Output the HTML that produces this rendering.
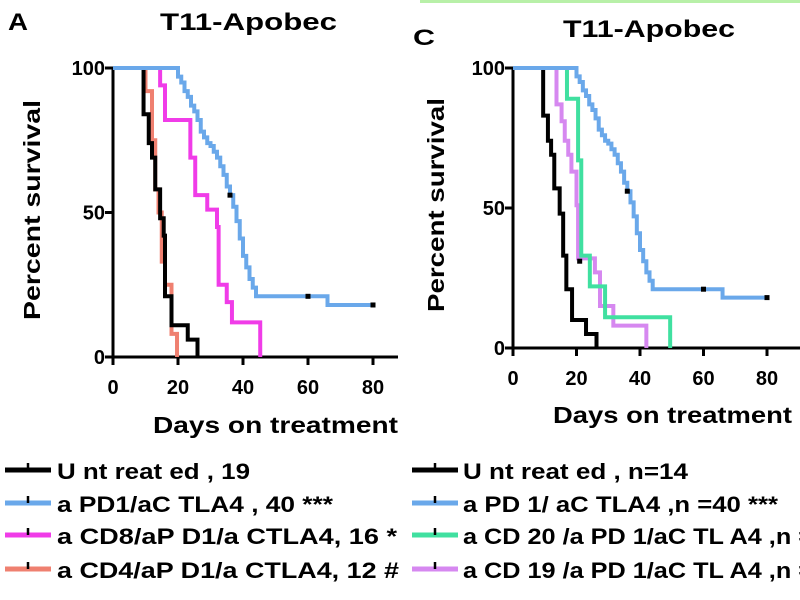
<!DOCTYPE html>
<html><head><meta charset="utf-8"><style>
body{margin:0;background:#fff;overflow:hidden;}
svg{display:block;font-family:"Liberation Sans",sans-serif;font-weight:bold;}
</style></head><body>
<svg id="fig" width="800" height="600" viewBox="0 0 800 600">
<rect x="420" y="0" width="380" height="3" fill="#b8f0a8"/>
<text x="8" y="30" font-size="24" textLength="20" lengthAdjust="spacingAndGlyphs">A</text>
<text x="160" y="30" font-size="24" textLength="177" lengthAdjust="spacingAndGlyphs">T11-Apobec</text>
<text x="413" y="45" font-size="22" textLength="22" lengthAdjust="spacingAndGlyphs">C</text>
<text x="563" y="37" font-size="24" textLength="172" lengthAdjust="spacingAndGlyphs">T11-Apobec</text>
<g id="panelA"></g>
<g id="panelC"></g>
<g id="legends"></g>
</svg>
<script>
// Panel A data (days, percent survival steps)
const aBlackT=[9.4,11,12,13,14.5,15.6,16,18,23,26];
const aBlackV=[84,74,69,58,48,42,21,11,6,0];
const aRedT=[10,12,13,14,15,16,18,19.7];
const aRedV=[92,75,58,50,33,25,8,0];
const aMagT=[14.5,16,23.8,25.3,29,32,32.5,35,36.6,45.3];
const aMagV=[94,82,69,56,51,45,25,19,12,0];
const blueT=[20,21,22,23,24,25,26,27,28,29,30,31,32,33,34,35,36,37,38,39,40,41,42,43,44,66];
const blueV=[97,95,92,90,87,85,82,78,76,74,73,71,69,66,63,59,56,52,47,41,35,31,27,24,21,18];
const blueCensorT=[36,60,80];
const blueCensorV=[56,21,18];
// Panel C data
const cBlackT=[9.5,11,12,13,14.7,15.8,16.8,18.6,23,26.3];
const cBlackV=[83,74,69,57,48,33,21,10,5,0];
const cGreenT=[17,20.5,21.5,24.2,29,49.5];
const cGreenV=[89,67,33,22,11,0];
const cPurpT=[13.7,15.3,16.3,17.4,18.4,20,20.5,25.8,27.4,31.6,42];
const cPurpV=[87,81,74,69,63,51,32,27,15,8,0];
const xTicks=[0,20,40,60,80];
const yTicks=[0,50,100];

const NS='http://www.w3.org/2000/svg';
function mk(parent,tag,attrs){const e=document.createElementNS(NS,tag);for(const k in attrs)e.setAttribute(k,attrs[k]);parent.appendChild(e);return e;}

function panel(g,x0,x80,y100,y0,axisEnd,series,ylx,ylTop,ylBot,xlX1,xlX2,xlabY){
  const sx=d=>x0+(x80-x0)*d/80, sy=v=>y0+(y100-y0)*v/100;
  const ya=mk(g,'line',{x1:sx(0),x2:sx(0),y1:sy(100)-1,y2:sy(0)+1,stroke:'#000','stroke-width':3});
  
  
  const xa=mk(g,'line',{x1:sx(0)-8,x2:axisEnd,y1:sy(0),y2:sy(0),stroke:'#000','stroke-width':3});
  
  
  yTicks.forEach(v=>{
    mk(g,'line',{x1:sx(0)-8,x2:sx(0),y1:sy(v),y2:sy(v),stroke:'#000','stroke-width':3});
    const t=mk(g,'text',{x:sx(0)-8,y:sy(v)+7,'font-size':20,'text-anchor':'end'});
    t.textContent=v;
    
    
  });
  xTicks.forEach(d=>{
    mk(g,'line',{x1:sx(d),x2:sx(d),y1:sy(0),y2:sy(0)+8,stroke:'#000','stroke-width':3});
    const t=mk(g,'text',{x:sx(d),y:sy(0)+37,'font-size':20,'text-anchor':'middle'});
    t.textContent=d;
    
    
  });
  const yl=mk(g,'text',{x:0,y:0,'font-size':23,textLength:ylBot-ylTop,lengthAdjust:'spacingAndGlyphs',transform:`translate(${ylx},${ylBot}) rotate(-90)`});
  yl.textContent='Percent survival';
  
  
  const xl=mk(g,'text',{x:xlX1,y:xlabY,'font-size':23,textLength:xlX2-xlX1,lengthAdjust:'spacingAndGlyphs'});
  xl.textContent='Days on treatment';
  
  
  series.forEach(s=>{
    let d=`M${sx(0)},${sy(100)}`;
    s.t.forEach((t,i)=>{d+=` H${sx(t)} V${sy(s.v[i])}`;});
    if(s.end)d+=` H${sx(s.end)}`;
    const p=mk(g,'path',{d:d,fill:'none',stroke:s.c,'stroke-width':4});
    
    
    (s.ct||[]).forEach((t,i)=>{
      const m=mk(g,'rect',{x:sx(t)-2.5,y:sy(s.cv[i])-2.5,width:5,height:5,fill:'#000'});
      
      
    });
  });
}
const gA=document.getElementById('panelA');
panel(gA,113,373,68,357,398,[
 {t:aRedT,v:aRedV,c:'#ef8070',name:'curve-acd4'},
 {t:aBlackT,v:aBlackV,c:'#000',name:'curve-untreated'},
 {t:aMagT,v:aMagV,c:'#f03ce8',name:'curve-acd8'},
 {t:blueT,v:blueV,c:'#6aa8ea',end:80,ct:blueCensorT,cv:blueCensorV,name:'curve-apd1-actla4'}
],40,100,320,153,398,433);
const gC=document.getElementById('panelC');
panel(gC,513,767,68,348,800,[
 {t:cBlackT,v:cBlackV,c:'#000',name:'curve-untreated'},
 {t:cPurpT,v:cPurpV,c:'#d688f0',name:'curve-acd19'},
 {t:cGreenT,v:cGreenV,c:'#40e0a0',ct:[21],cv:[31],name:'curve-acd20'},
 {t:blueT,v:blueV,c:'#6aa8ea',end:80,ct:blueCensorT,cv:blueCensorV,name:'curve-apd1-actla4'}
],444,98,312,553,792,423);

const legA=[['#000','U nt reat ed ,  19',193],['#6aa8ea','a PD1/aC TLA4 , 40 ***',276],['#f03ce8','a CD8/aP D1/a CTLA4, 16   *',340],['#ef8070','a CD4/aP D1/a CTLA4, 12   #',342]];
const legC=[['#000','U nt reat ed ,  n=14',225],['#6aa8ea','a PD 1/ aC TLA4 ,n =40    ***',315],['#40e0a0','a CD 20 /a PD 1/aC TL A4 ,n =',350],['#d688f0','a CD 19 /a PD 1/aC TL A4 ,n =',350]];
const rowsY=[479,512,544,578];
const lg=document.getElementById('legends');
function legend(items,x,tx){
  items.forEach((it,i)=>{
    const y=rowsY[i];
    const gg=mk(lg,'g',{});
    
    
    mk(gg,'line',{x1:x,x2:x+46,y1:y-9,y2:y-9,stroke:it[0],'stroke-width':5});
    mk(gg,'line',{x1:x+23,x2:x+23,y1:y-16,y2:y-9,stroke:'#000','stroke-width':2.5});
    const t=mk(gg,'text',{x:tx,y:y,'font-size':22,textLength:it[2],lengthAdjust:'spacingAndGlyphs'});
    t.textContent=it[1];
  });
}
legend(legA,5,57);
legend(legC,412,463);
</script>
</body></html>
